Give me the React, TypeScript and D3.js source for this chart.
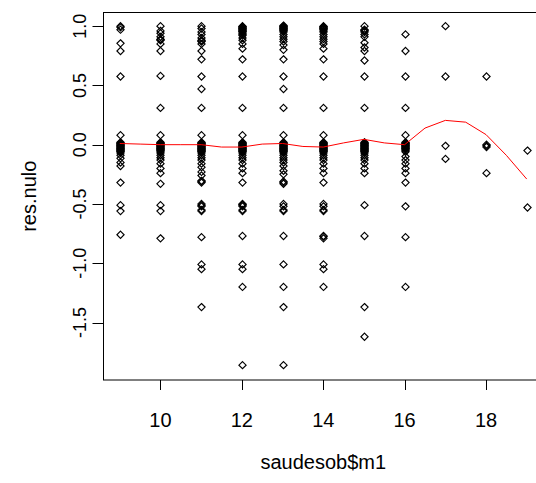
import React from "react";
import * as d3 from "d3";

const W = 536;
const H = 483;

const m1Levels = [9, 10, 11, 12, 13, 14, 15, 16, 17, 18, 19];
const res9 = [1.0, 0.99, 0.97, 0.855, 0.79, 0.575, 0.08, 0.02, 0.015, 0.01, 0.005, 0.0, -0.005, -0.01, -0.015, -0.02, -0.025, -0.03, -0.035, -0.04, -0.045, -0.05, -0.055, -0.06, -0.07, -0.09, -0.115, -0.15, -0.18, -0.32, -0.51, -0.56, -0.76];
const res10 = [1.0, 0.96, 0.94, 0.91, 0.89, 0.885, 0.88, 0.85, 0.79, 0.58, 0.31, 0.08, 0.02, 0.015, 0.01, 0.005, 0.0, -0.005, -0.01, -0.015, -0.02, -0.025, -0.03, -0.035, -0.04, -0.045, -0.05, -0.06, -0.07, -0.09, -0.11, -0.13, -0.16, -0.2, -0.24, -0.33, -0.51, -0.56, -0.79];
const res11 = [1.0, 0.98, 0.95, 0.93, 0.9, 0.88, 0.875, 0.87, 0.85, 0.79, 0.72, 0.575, 0.47, 0.31, 0.08, 0.02, 0.015, 0.01, 0.005, 0.0, -0.005, -0.01, -0.015, -0.02, -0.025, -0.03, -0.035, -0.04, -0.045, -0.05, -0.055, -0.06, -0.07, -0.09, -0.11, -0.13, -0.16, -0.19, -0.23, -0.26, -0.305, -0.31, -0.32, -0.5, -0.51, -0.52, -0.55, -0.56, -0.78, -1.01, -1.05, -1.37];
const res12 = [1.0, 0.995, 0.99, 0.985, 0.98, 0.975, 0.97, 0.965, 0.96, 0.955, 0.95, 0.94, 0.93, 0.92, 0.9, 0.88, 0.85, 0.81, 0.72, 0.575, 0.31, 0.08, 0.02, 0.015, 0.01, 0.005, 0.0, -0.005, -0.01, -0.015, -0.02, -0.025, -0.03, -0.035, -0.04, -0.045, -0.05, -0.055, -0.06, -0.07, -0.09, -0.11, -0.13, -0.16, -0.2, -0.24, -0.32, -0.5, -0.505, -0.51, -0.52, -0.55, -0.56, -0.77, -1.01, -1.05, -1.2, -1.86];
const res13 = [1.005, 1.0, 0.995, 0.99, 0.985, 0.98, 0.975, 0.97, 0.965, 0.96, 0.95, 0.93, 0.91, 0.89, 0.87, 0.84, 0.8, 0.72, 0.575, 0.47, 0.31, 0.08, 0.02, 0.015, 0.01, 0.005, 0.0, -0.005, -0.01, -0.015, -0.02, -0.025, -0.03, -0.035, -0.04, -0.045, -0.05, -0.055, -0.06, -0.07, -0.09, -0.11, -0.13, -0.15, -0.18, -0.22, -0.25, -0.31, -0.32, -0.33, -0.5, -0.52, -0.55, -0.56, -0.77, -1.01, -1.2, -1.37, -1.86];
const res14 = [1.0, 0.995, 0.99, 0.985, 0.98, 0.975, 0.97, 0.96, 0.95, 0.93, 0.91, 0.89, 0.87, 0.85, 0.81, 0.72, 0.575, 0.31, 0.08, 0.02, 0.015, 0.01, 0.005, 0.0, -0.005, -0.01, -0.015, -0.02, -0.025, -0.03, -0.035, -0.04, -0.045, -0.05, -0.055, -0.06, -0.07, -0.09, -0.11, -0.13, -0.16, -0.2, -0.24, -0.32, -0.5, -0.52, -0.55, -0.56, -0.77, -0.775, -0.79, -1.01, -1.05, -1.2];
const res15 = [1.0, 0.97, 0.965, 0.96, 0.95, 0.93, 0.91, 0.86, 0.82, 0.79, 0.71, 0.575, 0.31, 0.02, 0.015, 0.01, 0.005, 0.0, -0.005, -0.01, -0.015, -0.02, -0.025, -0.03, -0.035, -0.04, -0.045, -0.05, -0.055, -0.06, -0.07, -0.09, -0.11, -0.13, -0.16, -0.2, -0.24, -0.51, -0.77, -1.37, -1.62];
const res16 = [0.93, 0.79, 0.575, 0.31, 0.08, 0.02, 0.015, 0.01, 0.005, 0.0, -0.005, -0.01, -0.015, -0.02, -0.025, -0.03, -0.035, -0.04, -0.05, -0.06, -0.1, -0.13, -0.16, -0.2, -0.24, -0.32, -0.52, -0.78, -1.2];
const res17 = [1.0, 0.575, -0.01, -0.12];
const res18 = [0.575, 0.0, -0.01, -0.02, -0.24];
const res19 = [-0.05, -0.53];
const resByLevel = [res9, res10, res11, res12, res13, res14, res15, res16, res17, res18, res19];

const lowessX = [9, 9.5, 10, 10.5, 11, 11.5, 12, 12.5, 13, 13.5, 14, 14.5, 15, 15.5, 16, 16.5, 17, 17.5, 18, 18.5, 19];
const lowessY = [0.01, 0.005, 0.0, 0.0, 0.0, -0.02, -0.02, 0.005, 0.01, -0.015, -0.02, 0.015, 0.045, 0.015, 0.0, 0.14, 0.205, 0.19, 0.085, -0.09, -0.29];

const xTicks = [10, 12, 14, 16, 18];
const yTicks = [-1.5, -1.0, -0.5, 0.0, 0.5, 1.0];

const FONT = "'Liberation Sans', Arial, sans-serif";

export default function App() {
  const x = d3.scaleLinear().domain([8.6, 19.4]).range([103.5, 543]);
  const y = d3.scaleLinear().domain([-1.985, 1.115]).range([380, 12.5]);

  const points: { m: number; r: number }[] = [];
  m1Levels.forEach((m, i) => resByLevel[i].forEach((r) => points.push({ m, r })));

  const s = 3.6;
  const diamond = (cx: number, cy: number) =>
    `M${cx},${cy - s}L${cx + s},${cy}L${cx},${cy + s}L${cx - s},${cy}Z`;

  const line = d3
    .line<number>()
    .x((_, i) => x(lowessX[i]))
    .y((d) => y(d))
    .curve(d3.curveLinear);

  const left = 103.5;
  const right = 543;
  const top = 12.5;
  const bottom = 380;

  return (
    <svg width={W} height={H} style={{ position: "absolute", left: 0, top: 0, background: "#fff" }}>
      <rect x={0} y={0} width={W} height={H} fill="#fff" />
      {points.map((p, i) => (
        <path key={i} d={diamond(Math.round(x(p.m)) + 0.5, y(p.r))} fill="none" stroke="#000" strokeWidth={1.15} />
      ))}
      <path d={line(lowessY) || ""} fill="none" stroke="#ff0000" strokeWidth={1} />
      <rect x={left} y={top} width={right - left} height={bottom - top} fill="none" stroke="#000" strokeWidth={1} />
      {xTicks.map((t) => (
        <g key={t}>
          <line x1={Math.round(x(t)) + 0.5} x2={Math.round(x(t)) + 0.5} y1={bottom} y2={bottom + 10} stroke="#000" />
          <text x={x(t)} y={427} textAnchor="middle" fontFamily={FONT} fontSize={20} fill="#000">
            {t}
          </text>
        </g>
      ))}
      {yTicks.map((t) => (
        <g key={t}>
          <line x1={left - 11} x2={left} y1={Math.round(y(t)) + 0.5} y2={Math.round(y(t)) + 0.5} stroke="#000" />
          <text
            transform={`translate(86,${y(t)}) rotate(-90)`}
            textAnchor="middle"
            fontFamily={FONT}
            fontSize={18}
            fill="#000"
          >
            {t.toFixed(1)}
          </text>
        </g>
      ))}
      <text x={(left + right) / 2} y={469} textAnchor="middle" fontFamily={FONT} fontSize={20} fill="#000">
        saudesob$m1
      </text>
      <text
        transform={`translate(36,${(top + bottom) / 2}) rotate(-90)`}
        textAnchor="middle"
        fontFamily={FONT}
        fontSize={20}
        fill="#000"
      >
        res.nulo
      </text>
    </svg>
  );
}
